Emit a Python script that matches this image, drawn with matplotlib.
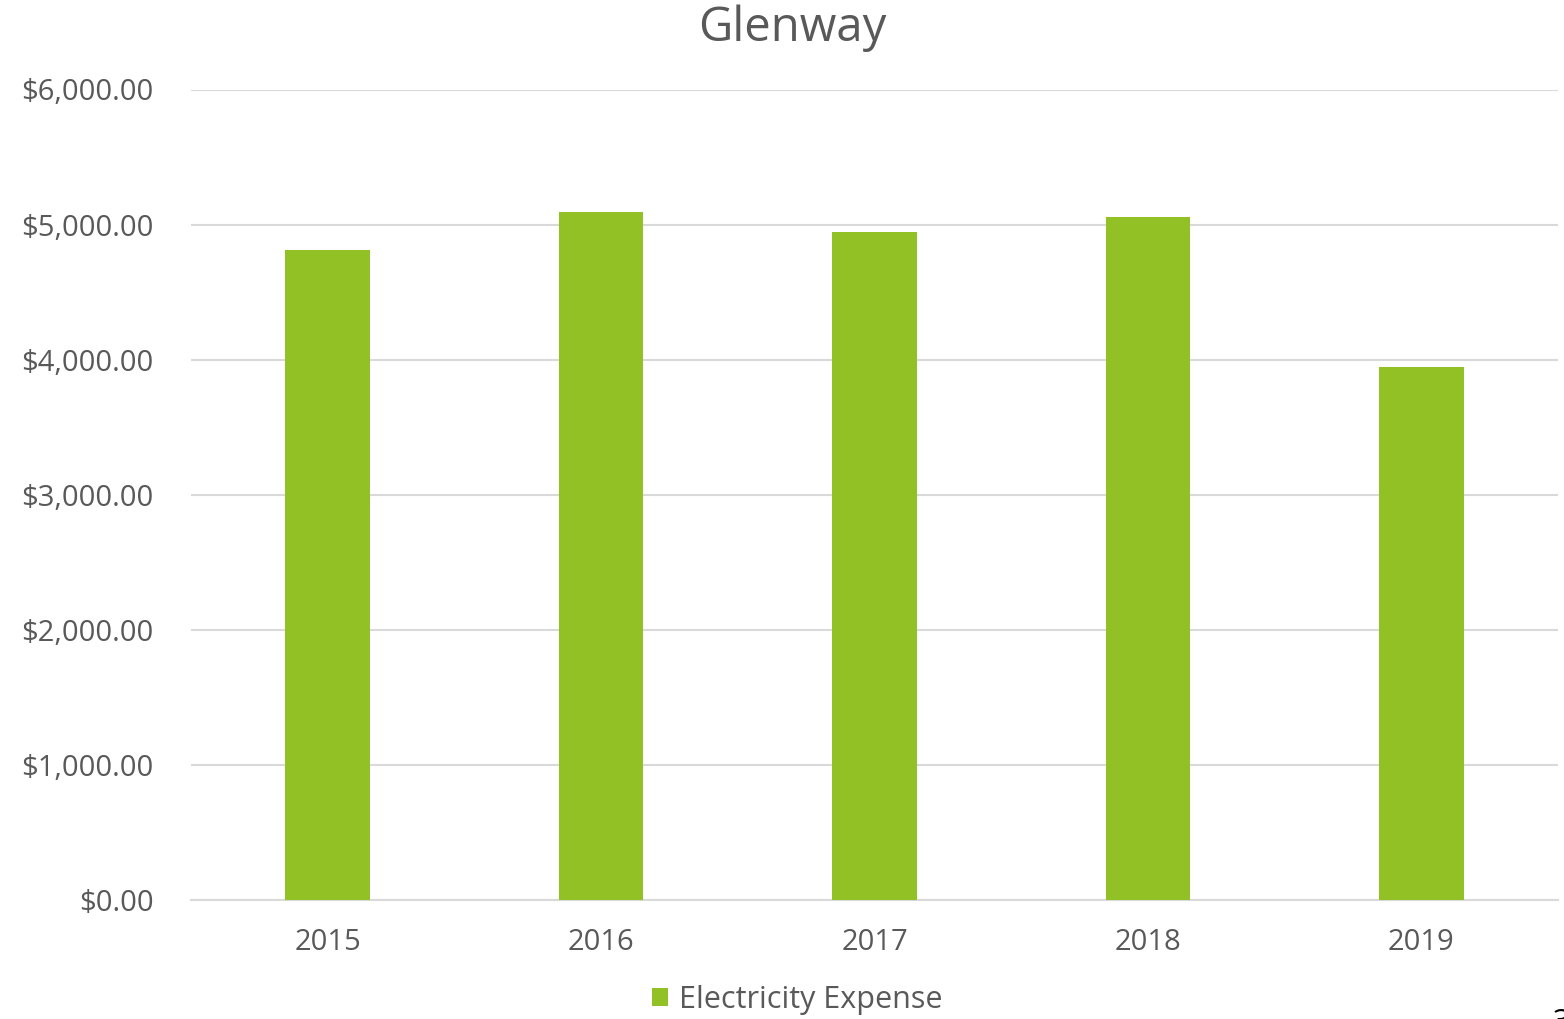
import matplotlib
matplotlib.use("Agg")
import matplotlib.pyplot as plt
from matplotlib.ticker import FuncFormatter

years = ["2015", "2016", "2017", "2018", "2019"]
expense = [4811, 5093, 4945, 5058, 3948]
series_name = "Electricity Expense"
title = "Glenway"

plt.rcParams['font.family'] = ['Open Sans', 'DejaVu Sans']
W, H = 1564, 1019
fig = plt.figure(figsize=(W/100, H/100), dpi=100)
ax = fig.add_axes([191/W, 1-900/H, (1558-191)/W, (900-89.5)/H])

x = range(len(years))
ax.bar(x, expense, width=0.31, color="#92c125", label=series_name, zorder=3)
ax.set_xlim(-0.5, len(years)-0.5)
ax.set_ylim(0, 6000)
ax.set_yticks(range(0, 6001, 1000))
ax.yaxis.set_major_formatter(FuncFormatter(lambda v, p: f"${v:,.2f}"))
ax.set_xticks(list(x))
ax.set_xticklabels(years)
ax.grid(axis='y', color="#d9d9d9", linewidth=1.5, zorder=0)
for s in ["top", "right", "left"]:
    ax.spines[s].set_visible(False)
ax.spines["bottom"].set_color("#d9d9d9")
ax.spines["bottom"].set_linewidth(1.5)
ax.tick_params(axis='both', length=0, colors="#595959", labelsize=21)
ax.tick_params(axis='y', pad=27)
ax.tick_params(axis='x', pad=20)

fig.text(792/W, 1-28/H, title, ha='center', va='center', fontsize=34, color="#595959")
leg = fig.legend(loc='center', bbox_to_anchor=(797/W, 1-1000/H), frameon=False,
                 fontsize=22, labelcolor="#595959", handlelength=0.55, handleheight=0.55,
                 handletextpad=0.35)
fig.text(1553/W, 1-1008/H, "3", ha='left', va='top', fontsize=22, color="black")
fig.savefig("out.png", dpi=100)
